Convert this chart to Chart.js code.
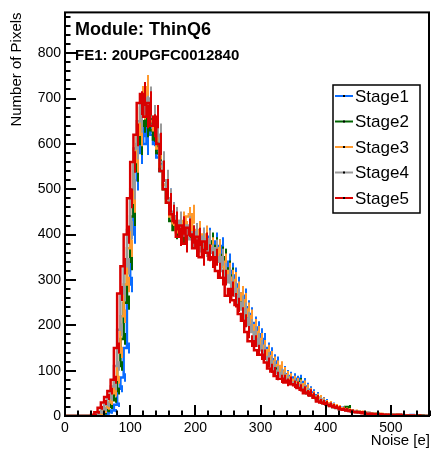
<!DOCTYPE html>
<html>
<head>
<meta charset="utf-8">
<script src="https://cdn.jsdelivr.net/npm/chart.js@4.4.0/dist/chart.umd.min.js"></script>
<style>
  html, body { margin: 0; padding: 0; background: #fff; }
  #noise { display: block; }
</style>
</head>
<body>
<canvas id="noise" width="431" height="455"></canvas>
<script>
// histogram bins: 5 e wide, from 0 to 560
var binWidth = 5;
var xMin = 0, xMax = 560;
var yMin = 0, yMax = 890;

var stageNames = ['Stage1', 'Stage2', 'Stage3', 'Stage4', 'Stage5'];
var stageColors = ['#0a6cff', '#006400', '#ff9a2e', '#9a9a9a', '#d90000'];

// counts per bin (bin left edge = index * binWidth)
var stage1 = [0,0,0,0,0,0,0,0,0,0,0,0,
  2,5,8,12,25,60,85,150,290,400,
  520,580,640,600,650,620,600,570,540,510,
  480,450,440,415,420,400,410,395,405,390,
  395,380,395,370,385,360,375,350,340,320,
  310,290,270,265,240,225,205,195,180,170,
  150,140,125,120,105,100,92,88,85,80,
  82,75,65,58,52,46,40,36,32,28,
  25,22,19,18,15,14,12,10,10,8,
  8,7,6,6,5,4,4,3,3,3,
  2,2,2,1,1,2,1,0,1,0];
var stage2 = [0,0,0,0,0,0,0,0,0,0,0,
  3,6,12,20,35,55,110,170,250,340,
  440,540,600,650,640,670,630,610,580,540,
  500,470,430,410,420,400,395,410,400,390,
  405,380,395,370,385,375,370,355,350,325,
  310,290,275,260,250,230,210,190,180,165,
  150,135,130,118,105,100,90,85,82,78,
  72,75,68,58,50,46,42,38,33,28,
  27,23,20,18,16,14,20,12,10,9,
  8,7,6,6,5,5,4,4,3,3,
  2,2,2,1,1,1,1,0,0,1,
  0];
var stage3 = [0,0,0,0,0,0,0,0,0,0,0,
  4,10,18,30,50,80,140,220,290,370,
  470,560,620,680,725,690,650,630,590,550,
  510,470,440,425,405,430,410,440,445,400,
  410,385,400,380,375,360,370,345,340,320,
  305,300,280,270,255,235,220,200,185,170,
  155,145,132,120,112,110,98,90,85,80,
  75,72,70,62,55,48,43,40,35,30,
  28,24,22,20,17,15,14,12,11,10,
  9,8,7,6,6,5,5,4,4,3,
  3,3,2,2,1,1,1,1,0,0,
  0];
var stage4 = [0,0,0,0,0,0,0,0,0,0,
  4,8,15,25,40,65,110,190,270,330,
  410,500,590,650,690,680,700,660,640,620,
  560,520,480,450,440,430,415,400,420,390,
  405,380,395,370,390,360,370,340,350,320,
  310,295,280,265,250,235,215,200,185,170,
  155,145,130,120,110,100,95,88,82,78,
  74,70,68,62,55,50,45,40,35,32,
  28,25,22,20,17,15,14,12,11,10,
  9,8,7,6,5,5,4,4,3,3,
  3,2,2,2,1,1,1,1,0,0,
  0,0];
var stage5 = [0,0,0,0,0,0,0,0,0,
  3,8,18,30,42,55,80,150,270,330,
  400,480,560,620,690,710,660,690,640,660,
  600,540,500,470,445,430,395,420,380,415,
  400,370,395,350,385,360,345,350,320,305,
  305,265,280,255,245,225,210,185,165,165,
  145,135,135,118,105,98,88,82,82,74,
  78,70,68,62,58,50,52,45,40,32,
  30,28,25,22,20,18,15,14,12,11,
  9,8,8,6,5,5,4,4,4,3,
  3,2,2,2,3,1,1,1,1,0,
  1,0,0];

var xTickLabels = [0, 100, 200, 300, 400, 500];
var yTickLabels = [0, 100, 200, 300, 400, 500, 600, 700, 800];

var title1 = 'Module: ThinQ6';
var title2 = 'FE1: 20UPGFC0012840';
var xTitle = 'Noise [e]';
var yTitle = 'Number of Pixels';

var FONT = '"Liberation Sans", Arial, Helvetica, sans-serif';

function toSteps(counts) {
  var pts = [];
  for (var i = 0; i < counts.length; i++) {
    pts.push({x: xMin + i * binWidth, y: counts[i]});
  }
  pts.push({x: xMin + counts.length * binWidth, y: counts[counts.length - 1]});
  return pts;
}

var allStages = [stage1, stage2, stage3, stage4, stage5];
var datasets = allStages.map(function(counts, i) {
  return {
    label: stageNames[i],
    data: toSteps(counts),
    counts: counts,
    showLine: true,
    stepped: 'after',
    borderColor: stageColors[i],
    backgroundColor: stageColors[i],
    borderWidth: 2.5,
    pointRadius: 0,
    order: allStages.length - i
  };
});

// poisson error bars like ROOT's "E" option, drawn right after each histogram
var errorBars = {
  id: 'errorBars',
  afterDatasetDraw: function(chart, args) {
    var ds = chart.data.datasets[args.index],
        ctx = chart.ctx,
        xs = chart.scales.x,
        ys = chart.scales.y,
        area = chart.chartArea;
    ctx.save();
    ctx.beginPath();
    ctx.rect(area.left, area.top, area.right - area.left, area.bottom - area.top);
    ctx.clip();
    ctx.strokeStyle = ds.borderColor;
    ctx.lineWidth = 2;
    ctx.beginPath();
    ds.counts.forEach(function(n, i) {
      if (n <= 0) return;
      var px = Math.round(xs.getPixelForValue(xMin + (i + 0.5) * binWidth)),
          e = Math.sqrt(n);
      ctx.moveTo(px, ys.getPixelForValue(n - e));
      ctx.lineTo(px, ys.getPixelForValue(n + e));
    });
    ctx.stroke();
    ctx.restore();
  }
};

// ROOT-like frame, inward ticks, titles and legend box
var rootLook = {
  id: 'rootLook',
  afterDraw: function(chart) {
    var ctx = chart.ctx,
        area = chart.chartArea,
        xs = chart.scales.x,
        ys = chart.scales.y;
    ctx.save();

    // ticks
    ctx.strokeStyle = '#000';
    ctx.lineWidth = 2;
    ctx.beginPath();
    for (var v = 0; v <= yMax; v += 20) {
      var py = Math.round(ys.getPixelForValue(v));
      var len = (v % 100 === 0) ? 11 : 5.5;
      ctx.moveTo(area.left, py);
      ctx.lineTo(area.left + len, py);
    }
    for (var u = 0; u <= xMax; u += 20) {
      var px = Math.round(xs.getPixelForValue(u));
      var l2 = (u % 100 === 0) ? 11 : 5.5;
      ctx.moveTo(px, area.bottom);
      ctx.lineTo(px, area.bottom - l2);
    }
    ctx.stroke();

    // frame
    ctx.lineWidth = 2;
    ctx.strokeRect(area.left, area.top, area.right - area.left - 1, area.bottom - area.top);

    // titles
    ctx.fillStyle = '#000';
    ctx.textBaseline = 'middle';
    ctx.textAlign = 'left';
    ctx.font = 'bold 18px ' + FONT;
    ctx.fillText(title1, 75, 30);
    ctx.font = 'bold 15px ' + FONT;
    ctx.fillText(title2, 75, 56);

    ctx.font = '15px ' + FONT;
    ctx.textAlign = 'right';
    ctx.fillText(xTitle, 430, 441);

    ctx.save();
    ctx.translate(17, area.top);
    ctx.rotate(-Math.PI / 2);
    ctx.textAlign = 'right';
    ctx.fillText(yTitle, 0, 0);
    ctx.restore();

    // legend
    var lx = 333, ly = 85, lw = 87, lh = 128;
    ctx.fillStyle = '#fff';
    ctx.fillRect(lx, ly, lw, lh);
    ctx.lineWidth = 1.5;
    ctx.strokeStyle = '#000';
    ctx.strokeRect(lx, ly, lw, lh);
    ctx.font = '17px ' + FONT;
    ctx.textAlign = 'left';
    for (var k = 0; k < stageNames.length; k++) {
      var ey = ly + 11 + k * 25.5;
      ctx.strokeStyle = stageColors[k];
      ctx.lineWidth = 2;
      ctx.beginPath();
      ctx.moveTo(lx + 2, ey);
      ctx.lineTo(lx + 20, ey);
      ctx.stroke();
      ctx.fillStyle = '#000';
      ctx.fillRect(lx + 10, ey - 1, 2, 2);
      ctx.fillText(stageNames[k], lx + 22, ey + 1);
    }
    ctx.restore();
  }
};

var chart = new Chart(document.getElementById('noise').getContext('2d'), {
  type: 'scatter',
  data: { datasets: datasets },
  options: {
    responsive: false,
    animation: false,
    devicePixelRatio: 1,
    layout: { padding: { top: 10, right: 1, left: 0, bottom: 0 } },
    plugins: {
      legend: { display: false },
      tooltip: { enabled: false }
    },
    scales: {
      x: {
        type: 'linear',
        min: xMin,
        max: xMax,
        grid: { display: false, drawTicks: false },
        border: { display: false },
        afterFit: function(s) { s.height = 39; },
        afterBuildTicks: function(s) {
          s.ticks = xTickLabels.map(function(v) { return {value: v}; });
        },
        ticks: {
          autoSkip: false,
          maxRotation: 0,
          padding: 4,
          color: '#000',
          font: { family: FONT, size: 14 }
        }
      },
      y: {
        type: 'linear',
        min: yMin,
        max: yMax,
        grid: { display: false, drawTicks: false },
        border: { display: false },
        afterFit: function(s) { s.width = 65; },
        afterBuildTicks: function(s) {
          s.ticks = yTickLabels.map(function(v) { return {value: v}; });
        },
        ticks: {
          autoSkip: false,
          padding: 4,
          color: '#000',
          font: { family: FONT, size: 14 }
        }
      }
    }
  },
  plugins: [errorBars, rootLook]
});
</script>
</body>
</html>
